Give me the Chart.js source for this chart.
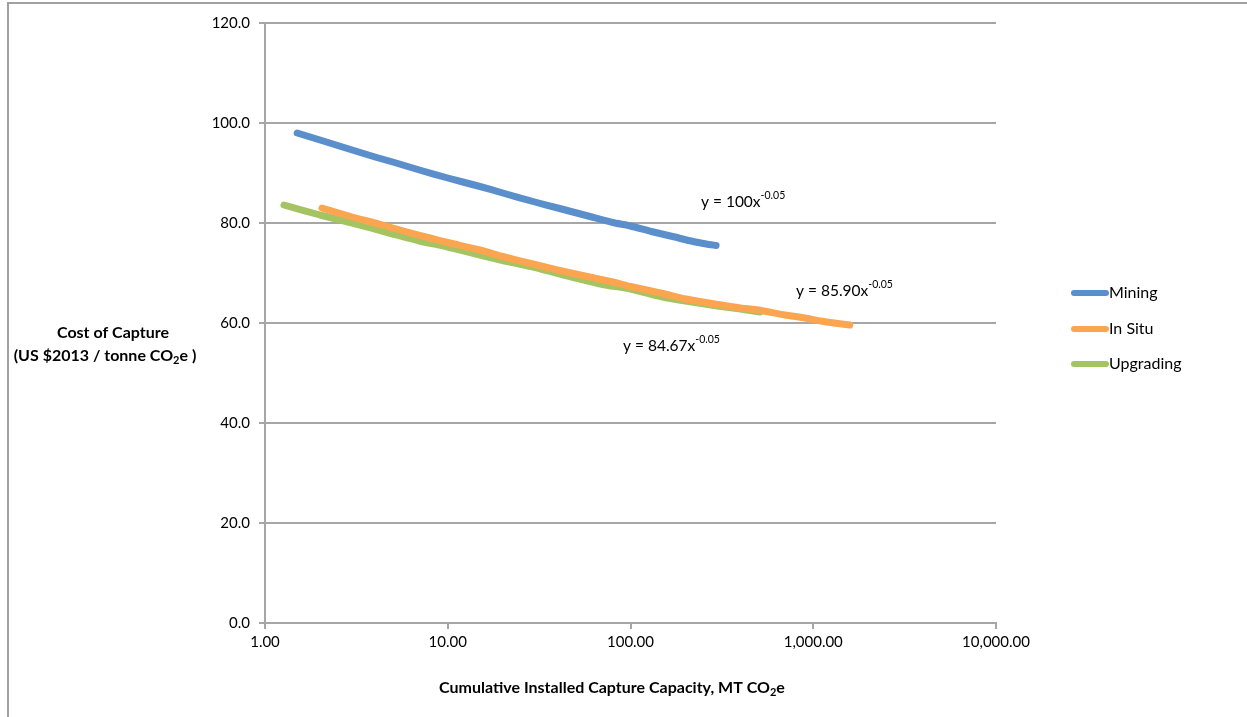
<!DOCTYPE html>
<html>
<head>
<meta charset="utf-8">
<script src="https://cdn.jsdelivr.net/npm/chart.js@4.4.1/dist/chart.umd.min.js"></script>
<style>
html,body{margin:0;padding:0;background:#fff;}
#wrap{position:relative;width:1247px;height:717px;}
canvas{display:block;}
</style>
</head>
<body>
<div id="wrap"><canvas id="c" width="1247" height="717"></canvas></div>
<script>
// ---- data ----
const seriesNames = ["Mining", "In Situ", "Upgrading"];
const seriesColors = ["#5A8FCB", "#FCA551", "#A3C461"];

const miningX = [1.5, 2, 3, 4, 5, 7, 10, 15, 20, 30, 40, 60, 80, 100, 130, 170, 220, 260, 294];
const miningY = [98.0, 96.6, 94.6, 93.2, 92.2, 90.6, 89.0, 87.3, 86.0, 84.2, 83.0, 81.3, 80.1, 79.4, 78.3, 77.3, 76.3, 75.8, 75.5];

const inSituX = [2.05, 3, 4, 6, 8, 10, 15, 20, 30, 50, 80, 100, 150, 200, 300, 400, 500, 700, 900, 1100, 1300, 1585];
const inSituY = [83.0, 81.2, 80.0, 78.2, 77.0, 76.1, 74.6, 73.3, 71.7, 69.8, 68.2, 67.3, 65.9, 64.8, 63.7, 63.0, 62.6, 61.6, 61.0, 60.4, 60.0, 59.6];

const upgradingX = [1.27, 2, 3, 5, 7, 10, 15, 20, 30, 50, 70, 100, 150, 200, 300, 400, 511];
const upgradingY = [83.6, 81.6, 80.0, 77.8, 76.4, 75.2, 73.6, 72.5, 71.1, 69.0, 67.7, 66.8, 65.2, 64.4, 63.4, 62.8, 62.2];

const xTickValues = [1, 10, 100, 1000, 10000];
const xTickLabels = ["1.00", "10.00", "100.00", "1,000.00", "10,000.00"];
const yTickValues = [0, 20, 40, 60, 80, 100, 120];

// trendline equation labels
const eqBase = ["y = 100x", "y = 85.90x", "y = 84.67x"];
const eqExp = ["-0.05", "-0.05", "-0.05"];
const eqAnchorX = [243, 805, 91];
const eqAnchorY = [84.2, 66.4, 55.4];

const yTitleLines = ["Cost of Capture", "(US $2013 / tonne CO", "2", "e )"];
const xTitleParts = ["Cumulative Installed Capture Capacity, MT CO", "2", "e"];

// ---- build ----
function pts(xs, ys){ return xs.map((x,i)=>({x:x, y:ys[i]})); }
const allX = [miningX, inSituX, upgradingX];
const allY = [miningY, inSituY, upgradingY];

const FONT = "Lato, 'Open Sans', sans-serif";
const GRID = "#A6A6A6";

const datasets = seriesNames.map((n,i)=>({
  label: n,
  data: pts(allX[i], allY[i]),
  borderColor: seriesColors[i],
  backgroundColor: seriesColors[i],
  borderWidth: 7,
  borderCapStyle: 'round',
  borderJoinStyle: 'round',
  pointRadius: 0,
  tension: 0.2,
  fill: false
}));

function subText(ctx, parts, cx, y, size, subSize, bold){
  const b = bold ? "bold " : "";
  ctx.font = b + size + "px " + FONT;
  const w1 = ctx.measureText(parts[0]).width, w3 = ctx.measureText(parts[2]).width;
  ctx.font = b + subSize + "px " + FONT;
  const w2 = ctx.measureText(parts[1]).width;
  const sx = cx - (w1 + w2 + w3)/2;
  ctx.textAlign = "left";
  ctx.font = b + size + "px " + FONT;
  ctx.fillText(parts[0], sx, y);
  ctx.font = b + subSize + "px " + FONT;
  ctx.fillText(parts[1], sx + w1, y + 4);
  ctx.font = b + size + "px " + FONT;
  ctx.fillText(parts[2], sx + w1 + w2, y);
}

const decor = {
  id: 'decor',
  afterDraw(chart){
    const ctx = chart.ctx;
    const xs = chart.scales.x, ys = chart.scales.y;
    ctx.save();
    // outer frame
    ctx.strokeStyle = "#A0A0A0";
    ctx.lineWidth = 2;
    ctx.beginPath();
    ctx.moveTo(8, 717); ctx.lineTo(8, 3); ctx.lineTo(1247, 3);
    ctx.stroke();

    ctx.fillStyle = "#000";
    ctx.textBaseline = "middle";
    // equations
    for (let i=0;i<eqBase.length;i++){
      const px = xs.getPixelForValue(eqAnchorX[i]);
      const py = ys.getPixelForValue(eqAnchorY[i]);
      ctx.font = "15.5px " + FONT;
      ctx.textAlign = "left";
      ctx.fillText(eqBase[i], px, py);
      const w = ctx.measureText(eqBase[i]).width;
      ctx.font = "10.5px " + FONT;
      ctx.fillText(eqExp[i], px + w, py - 6);
    }
    // legend
    const legY = [293, 329, 364];
    for (let i=0;i<seriesNames.length;i++){
      ctx.strokeStyle = seriesColors[i];
      ctx.lineWidth = 6;
      ctx.lineCap = 'round';
      ctx.beginPath();
      ctx.moveTo(1074, legY[i]); ctx.lineTo(1106, legY[i]);
      ctx.stroke();
      ctx.font = "16px " + FONT;
      ctx.textAlign = "left";
      ctx.fillText(seriesNames[i], 1109, legY[i]);
    }
    // y title
    ctx.font = "bold 16px " + FONT;
    ctx.textAlign = "center";
    ctx.fillText(yTitleLines[0], 113, 333);
    subText(ctx, [yTitleLines[1], yTitleLines[2], yTitleLines[3]], 105, 356, 16, 11, true);
    // x title
    subText(ctx, xTitleParts, 612, 688, 16, 11, true);
    ctx.restore();
  }
};

new Chart(document.getElementById('c'), {
  type: 'line',
  data: { datasets },
  options: {
    responsive: false,
    animation: false,
    devicePixelRatio: 1,
    layout: { padding: { left: 0, right: 251, top: 23, bottom: 0 } },
    plugins: { legend: { display: false }, tooltip: { enabled: false } },
    scales: {
      x: {
        type: 'logarithmic',
        min: 1, max: 10000,
        afterBuildTicks(s){ s.ticks = xTickValues.map(v=>({value:v})); },
        afterFit(s){ s.height = 94; },
        ticks: {
          autoSkip: false, maxRotation: 0, color: "#000",
          font: { family: FONT, size: 15 }, padding: 4,
          callback(v){ const k = xTickValues.indexOf(v); return k >= 0 ? xTickLabels[k] : ''; }
        },
        grid: { drawOnChartArea: false, drawTicks: true, tickLength: 6, color: GRID, lineWidth: 2 },
        border: { display: true, color: GRID, width: 2 }
      },
      y: {
        min: 0, max: 120,
        afterBuildTicks(s){ s.ticks = yTickValues.map(v=>({value:v})); },
        afterFit(s){ s.width = 265; },
        ticks: {
          color: "#000", font: { family: FONT, size: 15 }, padding: 9,
          callback(v){ return Number(v).toFixed(1); }
        },
        grid: { color: GRID, lineWidth: 2, tickLength: 6 },
        border: { display: true, color: GRID, width: 2 }
      }
    }
  },
  plugins: [decor]
});
</script>
</body>
</html>
